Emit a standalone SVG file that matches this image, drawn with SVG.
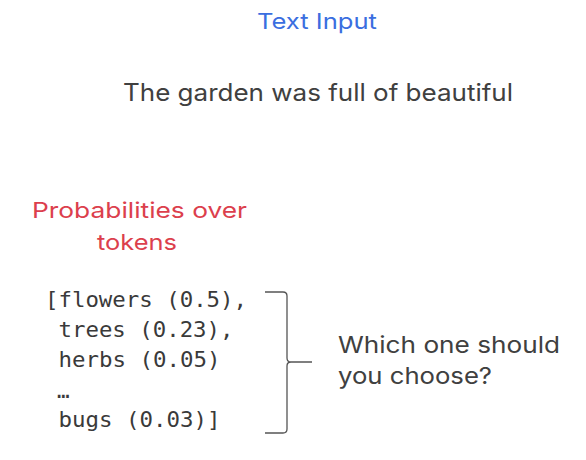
<svg xmlns="http://www.w3.org/2000/svg" width="586" height="460" viewBox="0 0 586 460">
<style>
.sans{font-family:Inter,"Open Sans","Liberation Sans",sans-serif;font-weight:400;}
.mono{font-family:"DejaVu Sans Mono","Liberation Mono",monospace;font-size:21px;fill:#3a3a3a;}
.dark{fill:#404040;}
.red{fill:#dc3f4d;}
.brace{fill:none;stroke:#555;stroke-width:1.3;}
</style>
<rect width="586" height="460" fill="#fff"/>
<g id="title">
<text class="sans" x="257" y="29" font-size="22" fill="#3a6ee0" textLength="120" lengthAdjust="spacingAndGlyphs">Text Input</text>
</g>
<g id="input">
<text class="sans dark" x="123" y="101" font-size="24" textLength="390" lengthAdjust="spacingAndGlyphs">The garden was full of beautiful</text>
</g>
<g id="prob-label">
<text class="sans red" x="32" y="218" font-size="22" textLength="215" lengthAdjust="spacingAndGlyphs">Probabilities over</text>
<text class="sans red" x="97" y="250" font-size="22" textLength="80" lengthAdjust="spacingAndGlyphs">tokens</text>
</g>
<g id="token-list">
<text class="mono" x="45" y="307" textLength="202" lengthAdjust="spacingAndGlyphs">[flowers (0.5),</text>
<text class="mono" x="58.5" y="337" textLength="175" lengthAdjust="spacingAndGlyphs">trees (0.23),</text>
<text class="mono" x="58.5" y="367" textLength="162" lengthAdjust="spacingAndGlyphs">herbs (0.05)</text>
<text class="mono" x="57" y="398" font-size="16">…</text>
<text class="mono" x="58.5" y="427" textLength="162" lengthAdjust="spacingAndGlyphs">bugs (0.03)]</text>
</g>
<g id="connectors">
<path class="brace" d="M265 292 H283 Q287 292 287 296 V358 Q287 362 291 362 H312 M312 362 H291 Q287 362 287 366 V429 Q287 433 283 433 H265"/>
</g>
<g id="question">
<text class="sans dark" x="338" y="353" font-size="23" textLength="222" lengthAdjust="spacingAndGlyphs">Which one should</text>
<text class="sans dark" x="338" y="384" font-size="23" textLength="154" lengthAdjust="spacingAndGlyphs">you choose?</text>
</g>
</svg>
